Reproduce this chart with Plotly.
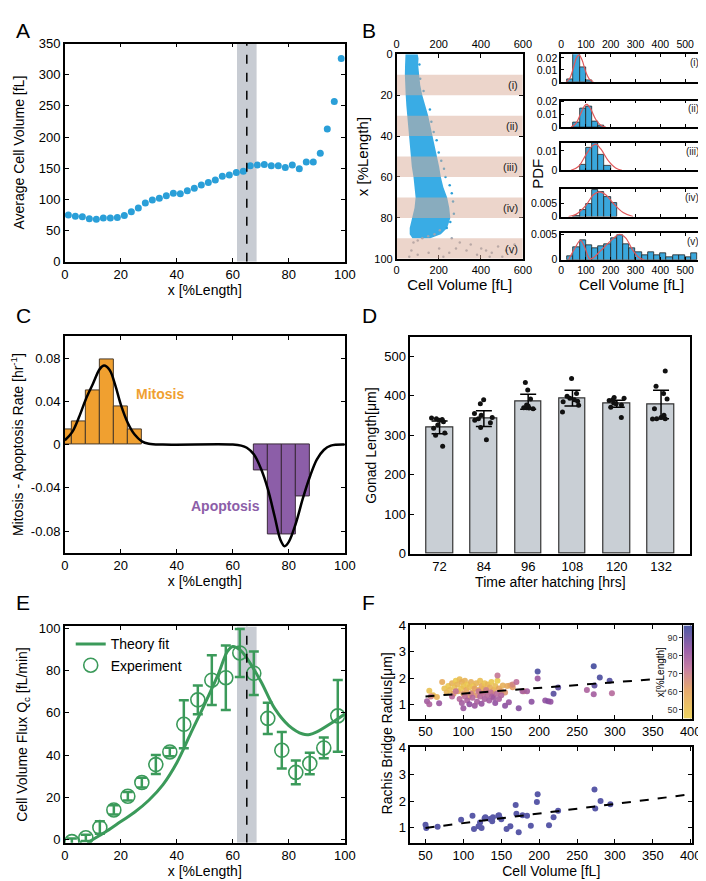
import plotly.graph_objects as go

W, H = 706, 881
FONT = "Liberation Sans, Arial, sans-serif"

# ---------- A: average cell volume along the gonad ----------
a_pos = [1.25, 3.75, 6.25, 8.75, 11.25, 13.75, 16.25, 18.75, 21.25, 23.75,
         26.25, 28.75, 31.25, 33.75, 36.25, 38.75, 41.25, 43.75, 46.25, 48.75,
         51.25, 53.75, 56.25, 58.75, 61.25, 63.75, 66.25, 68.75, 71.25, 73.75,
         76.25, 78.75, 81.25, 83.75, 86.25, 88.75, 91.25, 93.75, 96.25, 98.75]
a_vol = [75, 73, 72, 69, 68, 70, 70, 71, 74, 80,
         86, 94, 99, 102, 106, 110, 109, 114, 118, 123,
         127, 131, 137, 139, 143, 145, 154, 155, 156, 154,
         154, 151, 155, 149, 160, 160, 174, 213, 257, 326]
band = [61.5, 68.5]
transition = 65

# ---------- B: cell volume vs position (dense cloud envelope + sparse cells) ----------
b_level = [0, 2, 5, 10, 15, 20, 25, 30, 35, 40, 45, 50, 55, 60, 65, 70, 75, 80, 85, 88, 90]
b_left = [42, 40, 40, 39, 40, 43, 46, 50, 54, 58, 62, 66, 72, 80, 86, 90, 85, 75, 62, 62, 75]
b_right = [100, 104, 102, 106, 112, 122, 136, 150, 160, 170, 182, 192, 202, 210, 222, 240, 250, 255, 240, 210, 160]
b_sparse_vol = [108, 112, 128, 158, 165, 176, 190, 200, 212, 225, 232, 252, 262, 268, 272, 255, 238,
                205, 180, 150, 122, 100, 80, 262, 300, 352, 402, 425, 452, 482, 520, 548, 560,
                332, 282, 202, 152, 100, 70, 222, 382, 442, 502, 250, 60]
b_sparse_x = [5, 12, 18, 27, 33, 38, 42, 48, 52, 56, 60, 64, 68, 72, 78, 82, 85,
              86, 88, 89, 90, 91, 92, 90, 92, 93, 95, 96, 97, 94, 96, 97, 93,
              96, 95, 95, 97, 98, 96, 99, 98, 99, 99, 97, 99]
b_bands = [(10, 20), (30, 40), (50, 60), (70, 80), (90, 100)]
b_roman = ["(i)", "(ii)", "(iii)", "(iv)", "(v)"]

# ---------- B: histograms of cell volume per band ----------
h_centers = [
    [37.5, 62.5, 87.5, 112.5],
    [62.5, 87.5, 112.5, 137.5, 162.5],
    [87.5, 112.5, 137.5, 162.5, 187.5],
    [62.5, 87.5, 112.5, 137.5, 162.5, 187.5, 212.5],
    [37.5, 62.5, 87.5, 112.5, 137.5, 162.5, 187.5, 212.5, 237.5, 262.5, 287.5,
     312.5, 337.5, 362.5, 387.5, 412.5, 437.5, 462.5, 487.5, 512.5, 537.5],
]
h_pdf = [
    [0.0023, 0.030, 0.012, 0.0015],
    [0.0033, 0.0144, 0.016, 0.004, 0.001],
    [0.0027, 0.0115, 0.0149, 0.0078, 0.0022],
    [0.0002, 0.0023, 0.0049, 0.0099, 0.0093, 0.0072, 0.005],
    [0.0006, 0.0025, 0.0039, 0.0028, 0.0023, 0.0027, 0.0031, 0.0042, 0.0049, 0.0031, 0.0022,
     0.0014, 0.0008, 0.0014, 0.0009, 0.0013, 0.0005, 0.0008, 0.0008, 0.0005, 0.0013],
]
fit_vol = [
    [20, 35, 50, 62, 72, 85, 100, 115, 130],
    [40, 60, 80, 95, 105, 120, 140, 160, 180],
    [40, 70, 100, 125, 140, 160, 190, 220, 245],
    [30, 60, 100, 130, 155, 180, 210, 250, 290],
    [30, 55, 78, 95, 115, 130, 160, 200, 235, 260, 290, 315, 335],
]
fit_pdf = [
    [0, 0.003, 0.012, 0.020, 0.0225, 0.018, 0.008, 0.002, 0],
    [0, 0.003, 0.011, 0.017, 0.018, 0.014, 0.006, 0.0015, 0],
    [0, 0.002, 0.008, 0.0125, 0.0135, 0.011, 0.005, 0.0012, 0],
    [0, 0.0008, 0.0042, 0.0082, 0.0093, 0.0082, 0.005, 0.0015, 0],
    [0, 0.0022, 0.0038, 0.0025, 0.0002, 0.0004, 0.0018, 0.0037, 0.005, 0.0043, 0.0018, 0.0004, 0],
]
h_ymax = [0.023, 0.021, 0.0142, 0.0104, 0.0052]
h_ticks = [[0, 0.01, 0.02], [0, 0.01, 0.02], [0, 0.01], [0, 0.005], [0, 0.005]]

# ---------- C: mitosis / apoptosis rates ----------
mit_x = [0, 5, 10, 15, 20, 25]
mit_rate = [0.014, 0.021, 0.050, 0.0785, 0.0356, 0.014]
apo_x = [70, 75, 80, 85]
apo_rate = [-0.024, -0.083, -0.083, -0.048]
rate_fit_x = [0, 2.5, 5, 7.5, 10, 12.5, 14, 16, 18, 20, 22.5, 25, 27.5, 30, 35,
              60, 63, 65, 67.5, 70, 72.5, 75, 77, 78.5, 80, 82.5, 85, 87.5, 90, 92.5, 95, 100]
rate_fit_y = [0.004, 0.011, 0.025, 0.042, 0.056, 0.070, 0.073, 0.069, 0.055, 0.037, 0.020, 0.009, 0.003, 0.0008, 0,
              0, -0.001, -0.003, -0.009, -0.022, -0.041, -0.067, -0.088, -0.094, -0.090, -0.073, -0.050, -0.030,
              -0.014, -0.005, -0.001, 0]

# ---------- D: gonad length ----------
d_time = ["72", "84", "96", "108", "120", "132"]
d_mean = [320, 342, 385, 394, 380, 378]
d_sd = [16, 20, 19, 20, 9, 36]
d_worms = [
    [342, 340, 344, 338, 334, 326, 318, 306, 300, 272],
    [390, 380, 355, 351, 345, 342, 338, 332, 320, 289],
    [434, 415, 392, 377, 374, 370, 367, 369, 370],
    [444, 406, 399, 394, 390, 386, 376, 359, 385],
    [396, 394, 388, 382, 380, 377, 371, 345, 390],
    [463, 424, 406, 392, 367, 351, 342, 341, 342, 345],
]

# ---------- E: cell volume flux ----------
e_x = [2.5, 7.5, 12.5, 17.5, 22.5, 27.5, 32.5, 37.5, 42.5, 47.5,
       52.5, 57.5, 62.5, 67.5, 72.5, 77.5, 82.5, 87.5, 92.5, 97.5]
e_flux = [-1, 0.8, 5.7, 14, 20.5, 27, 35.5, 41.5, 54.6, 66.2,
          75.5, 76.7, 88.4, 78.8, 57.4, 42.3, 31.8, 36, 43.4, 58.6]
e_err = [1.5, 1.5, 3, 2.2, 2, 2.3, 4.5, 2, 11.4, 6.8,
         11.8, 15.3, 11.4, 10.3, 7.4, 8.7, 5.6, 5.1, 4.9, 17]
theory_x = [8, 10, 15, 20, 25, 30, 35, 40, 45, 50, 55, 58, 60, 62.5, 65, 70, 75, 80, 85, 87.5, 90, 95, 100]
theory_flux = [-1.5, 0, 4, 8.5, 13, 18.6, 25.9, 36.4, 50.4, 64.3, 79, 89, 91.5, 90, 86, 75, 62, 54, 50, 49.8, 51, 55, 59.5]

# ---------- F: rachis bridge radius ----------
f_vol = [55, 60, 65, 72, 75, 78, 80, 82, 85, 87, 88, 90, 92, 93, 95, 97, 98, 100, 100, 102,
         104, 105, 107, 108, 110, 112, 113, 115, 117, 118, 120, 122, 124, 125, 127, 128, 130, 132,
         135, 137, 138, 140, 142, 145, 147, 150, 152, 155, 158, 162, 165, 180,
         52, 55, 57, 68, 85, 90, 95, 98, 100, 102, 105, 108, 110, 112, 115, 118, 120, 122, 124,
         126, 128, 130, 132, 134, 136, 138, 140, 142, 144, 145, 147, 150, 155, 160, 165, 170, 173,
         178, 184, 190, 198, 208, 212, 215, 263, 272, 296,
         198, 219, 225, 272, 273, 280, 293]
f_rad = [1.52, 1.35, 1.28, 1.85, 1.6, 1.45, 1.7, 1.55, 1.8, 1.4, 1.65, 1.9, 1.75, 1.5, 1.95, 1.6, 1.85,
         1.7, 1.4, 1.9, 1.55, 1.75, 1.3, 1.65, 1.85, 1.45, 1.7, 1.6, 1.8, 1.35, 1.55, 1.9, 1.7, 1.45,
         1.6, 1.8, 1.5, 1.75, 1.65, 1.85, 1.4, 1.55, 1.7, 1.9, 1.6, 1.5, 1.72, 1.45, 1.7, 1.72, 1.65, 1.5,
         1.12, 1.0, 1.3, 1.04, 1.3, 1.5, 1.2, 1.05, 0.85, 1.3, 1.15, 1.0, 1.4, 1.25, 0.95, 1.1, 1.5,
         1.3, 1.02, 1.4, 1.2, 1.55, 1.35, 1.15, 1.45, 1.3, 1.25, 1.05, 1.4, 2.1, 1.2, 1.35, 0.95, 1.08,
         1.75, 1.85, 0.85, 1.5, 1.5, 1.1, 1.98, 1.15, 1.12, 1.1, 1.55, 1.38, 1.42,
         2.25, 1.4, 1.64, 2.45, 1.72, 2.02, 1.9]
f_pos = [50, 52, 55, 58, 50, 55, 48, 52, 56, 60, 50, 47, 54, 58, 52, 49, 57, 50, 62, 55,
         60, 48, 63, 52, 56, 58, 49, 61, 54, 65, 57, 51, 59, 62, 55, 50, 60, 53, 57, 48, 63, 58,
         52, 46, 60, 62, 56, 64, 58, 60, 62, 63,
         80, 78, 70, 82, 75, 72, 76, 80, 82, 74, 78, 84, 70, 77, 82, 79, 72, 76, 83, 74, 79, 70,
         76, 80, 73, 78, 81, 84, 75, 72, 79, 77, 85, 83, 68, 74, 86, 79, 80, 85, 82, 84, 86, 84,
         78, 80, 76,
         95, 93, 92, 96, 92, 95, 94]
f_distal_vol = [50, 51, 66, 97, 112, 114, 120, 122, 124, 128, 129, 135, 138, 139, 146, 147, 150,
                157, 162, 169, 170, 173, 178, 184, 189, 197, 198, 213, 219, 225, 273, 274, 281, 294]
f_distal_rad = [1.12, 1.0, 1.04, 1.3, 1.45, 0.96, 1.06, 1.2, 1.0, 1.36, 1.4, 1.33, 1.25, 1.4, 1.45,
                1.47, 1.32, 0.96, 1.06, 1.85, 1.53, 0.84, 1.47, 1.45, 1.08, 1.96, 2.25, 1.1, 1.4,
                1.64, 2.43, 1.72, 2.0, 1.88]
f_fit_all_vol, f_fit_all_rad = [50, 350], [1.3, 1.95]
f_fit_distal_vol, f_fit_distal_rad = [50, 400], [1.0, 2.25]
# colour key levels for x [%Length]
cb_levels = [45, 50, 55, 60, 65, 70, 75, 80, 85, 90, 95, 97]

BLUE = "#2a9fd8"
GREEN = "#3b9a5a"
ORANGE = "#f0a030"
PURPLE = "#8c5ea8"
POS_SCALE = [[0, "#ecd04c"], [0.3, "#e4a25e"], [0.55, "#c0709a"], [0.75, "#9150a0"], [1, "#3d4a9c"]]


def dx(a, b):
    return [a / W, b / W]


def dy(top, bottom):
    return [1 - bottom / H, 1 - top / H]


def frame(**kw):
    d = dict(showline=True, linecolor="black", linewidth=1.5, mirror="ticks", ticks="inside",
             ticklen=4, tickwidth=1.2, tickcolor="black", showgrid=False, zeroline=False,
             tickfont=dict(size=13, color="black"), title_font=dict(size=14, color="black"))
    d.update(kw)
    return d


fig = go.Figure()

# A
fig.add_trace(go.Scatter(x=a_pos, y=a_vol, mode="markers", marker=dict(color=BLUE, size=7),
                         xaxis="x", yaxis="y", showlegend=False))

# B scatter
fig.add_trace(go.Scatter(x=b_left + b_right[::-1], y=b_level + b_level[::-1], mode="lines",
                         fill="toself", fillcolor="rgba(30,160,225,0.88)", line=dict(width=0),
                         xaxis="x2", yaxis="y2", showlegend=False, hoverinfo="skip"))
fig.add_trace(go.Scatter(x=b_sparse_vol, y=b_sparse_x, mode="markers",
                         marker=dict(size=2.5, color=[BLUE if p < 86 else "#9aa6b4" for p in b_sparse_x]),
                         xaxis="x3", yaxis="y2", showlegend=False))

# B histograms
for i in range(5):
    n = i + 4
    fig.add_trace(go.Bar(x=h_centers[i], y=h_pdf[i], width=25,
                         marker=dict(color="#3aa7dc", line=dict(color="#222", width=0.8)),
                         xaxis=f"x{n}", yaxis=f"y{n}", showlegend=False))
    fig.add_trace(go.Scatter(x=fit_vol[i], y=fit_pdf[i], mode="lines", line_shape="spline",
                             line=dict(color="#e0585a", width=1.2),
                             xaxis=f"x{n}", yaxis=f"y{n}", showlegend=False))

# C
fig.add_trace(go.Bar(x=mit_x, y=mit_rate, width=5, marker=dict(color=ORANGE, line=dict(color="#4a3a2a", width=1)),
                     xaxis="x9", yaxis="y9", showlegend=False))
fig.add_trace(go.Bar(x=apo_x, y=apo_rate, width=5, marker=dict(color=PURPLE, line=dict(color="#3a2a3a", width=1)),
                     xaxis="x9", yaxis="y9", showlegend=False))
fig.add_trace(go.Scatter(x=rate_fit_x, y=rate_fit_y, mode="lines", line_shape="spline",
                         line=dict(color="black", width=2.5), xaxis="x9", yaxis="y9", showlegend=False))

# D
fig.add_trace(go.Bar(x=d_time, y=d_mean, width=0.6,
                     marker=dict(color="#c9cfd5", line=dict(color="#333", width=1.2)),
                     error_y=dict(type="data", array=d_sd, color="black", thickness=1.5, width=8),
                     xaxis="x10", yaxis="y10", showlegend=False))
box_x = [t for t, w in zip(d_time, d_worms) for _ in w]
box_y = [v for w in d_worms for v in w]
fig.add_trace(go.Box(x=box_x, y=box_y, boxpoints="all", jitter=0.9, pointpos=0, width=0.55,
                     fillcolor="rgba(0,0,0,0)", line=dict(color="rgba(0,0,0,0)", width=0),
                     marker=dict(color="#111", size=5), xaxis="x10", yaxis="y10", showlegend=False))

# E
fig.add_trace(go.Scatter(x=theory_x, y=theory_flux, mode="lines", line_shape="spline",
                         line=dict(color=GREEN, width=3), name="Theory fit", xaxis="x11", yaxis="y11"))
fig.add_trace(go.Scatter(x=e_x, y=e_flux, mode="markers", name="Experiment",
                         marker=dict(symbol="circle-open", size=14, color=GREEN, line=dict(width=1.6)),
                         error_y=dict(type="data", array=e_err, color=GREEN, thickness=2.5, width=5),
                         xaxis="x11", yaxis="y11"))

# F
fig.add_trace(go.Scatter(x=f_vol, y=f_rad, mode="markers",
                         marker=dict(size=6, color=f_pos, colorscale=POS_SCALE, cmin=45, cmax=97, opacity=0.9,
                                     showscale=False),
                         xaxis="x12", yaxis="y12", showlegend=False))
fig.add_trace(go.Scatter(x=f_fit_all_vol, y=f_fit_all_rad, mode="lines", line=dict(color="black", width=2, dash="dash"),
                         xaxis="x12", yaxis="y12", showlegend=False))
fig.add_trace(go.Scatter(x=f_distal_vol, y=f_distal_rad, mode="markers", marker=dict(size=6, color="#5a5aa8"),
                         xaxis="x13", yaxis="y13", showlegend=False))
fig.add_trace(go.Scatter(x=f_fit_distal_vol, y=f_fit_distal_rad, mode="lines",
                         line=dict(color="black", width=2, dash="dash"),
                         xaxis="x13", yaxis="y13", showlegend=False))
# colour key drawn as a thin heatmap strip with its own axis (labels on the left, as in the figure)
fig.add_trace(go.Heatmap(z=[[v] for v in cb_levels], y=cb_levels, x=[0], colorscale=POS_SCALE,
                         zmin=45, zmax=97, zsmooth="best", showscale=False, opacity=0.9,
                         xaxis="x14", yaxis="y14", hoverinfo="skip"))

layout = dict(
    width=W, height=H, margin=dict(l=0, r=0, t=0, b=0), paper_bgcolor="white", plot_bgcolor="white",
    font=dict(family=FONT, color="black"), bargap=0,
    legend=dict(x=60 / W, y=1 - 624 / H, xanchor="left", yanchor="top", bgcolor="rgba(0,0,0,0)",
                font=dict(size=14), tracegroupgap=0),
    xaxis=frame(domain=dx(54, 340), range=[0, 100], dtick=20, anchor="y",
                title=dict(text="x [%Length]", standoff=2)),
    yaxis=frame(domain=dy(29, 251), range=[0, 350], dtick=50, anchor="x",
                title=dict(text="Average Cell Volume [fL]", standoff=11)),
    xaxis2=frame(domain=dx(393, 522), range=[0, 600], tickvals=[0, 200, 400, 600], anchor="y2",
                 tickfont=dict(size=11), title=dict(text="Cell Volume [fL]", standoff=0, font=dict(size=15))),
    xaxis3=frame(range=[0, 600], tickvals=[0, 200, 400, 600], anchor="y2", overlaying="x2", side="top",
                 mirror=False, tickfont=dict(size=11)),
    yaxis2=frame(domain=dy(40, 248), range=[100, 0], dtick=20, anchor="x2", tickfont=dict(size=11),
                 title=dict(text="x [%Length]", standoff=2, font=dict(size=15))),
)

h_rows = [(40, 68), (87, 114), (130, 158), (177, 205), (222, 249)]
for i, (t, b) in enumerate(h_rows):
    n = i + 4
    xa = frame(domain=dx(561, 705), range=[0, 568], tickvals=[0, 100, 200, 300, 400, 500], anchor=f"y{n}",
               tickfont=dict(size=10.5), ticklen=3, showticklabels=(i in (0, 4)))
    if i == 0:
        xa["side"] = "top"
    if i == 4:
        xa["title"] = dict(text="Cell Volume [fL]", standoff=0, font=dict(size=15))
    layout[f"xaxis{n}"] = xa
    layout[f"yaxis{n}"] = frame(domain=dy(t, b), range=[0, h_ymax[i]], tickvals=h_ticks[i],
                                ticktext=[("0" if v == 0 else f"{v:g}") for v in h_ticks[i]],
                                anchor=f"x{n}", tickfont=dict(size=10.5), ticklen=3)

layout["xaxis9"] = frame(domain=dx(54, 340), range=[0, 100], dtick=20, anchor="y9",
                         title=dict(text="x [%Length]", standoff=2))
layout["yaxis9"] = frame(domain=dy(327, 547), range=[-0.1, 0.1], anchor="x9",
                         tickvals=[-0.08, -0.04, 0, 0.04, 0.08], ticktext=["-0.08", "-0.04", "0", "0.04", "0.08"],
                         title=dict(text="Mitosis - Apoptosis Rate [hr<sup>-1</sup>]", standoff=9))
layout["xaxis10"] = frame(domain=dx(407, 693), range=[-0.66, 5.66], type="category", anchor="y10", ticks="",
                          mirror=True, title=dict(text="Time after hatching [hrs]", standoff=2))
layout["yaxis10"] = frame(domain=dy(328, 548), range=[0, 548], dtick=100, anchor="x10", mirror=True,
                          title=dict(text="Gonad Length[μm]", standoff=4))
layout["xaxis11"] = frame(domain=dx(54, 340), range=[0, 100], dtick=20, anchor="y11",
                          title=dict(text="x [%Length]", standoff=2))
layout["yaxis11"] = frame(domain=dy(622, 842), range=[-1.5, 101], dtick=20, anchor="x11",
                          title=dict(text="Cell Volume Flux Q<sub>c</sub> [fL/min]", standoff=8))
layout["xaxis12"] = frame(domain=dx(407, 695), range=[30, 402], tickvals=[50, 100, 150, 200, 250, 300, 350, 400],
                          anchor="y12")
layout["yaxis12"] = frame(domain=dy(621, 716), range=[0.45, 4], dtick=1, anchor="x12")
layout["xaxis13"] = frame(domain=dx(407, 695), range=[30, 402], tickvals=[50, 100, 150, 200, 250, 300, 350, 400],
                          anchor="y13", title=dict(text="Cell Volume [fL]", standoff=2))
layout["yaxis13"] = frame(domain=dy(745, 842), range=[0.45, 4], dtick=1, anchor="x13")
layout["xaxis14"] = dict(domain=dx(686, 695), anchor="y14", range=[-0.5, 0.5], showticklabels=False, ticks="",
                         showline=True, linecolor="black", linewidth=1.2, mirror=True, showgrid=False, zeroline=False)
layout["yaxis14"] = dict(domain=dy(621, 716), anchor="x14", range=[45, 97], side="left",
                         tickvals=[50, 60, 70, 80, 90], ticks="outside", ticklen=3, tickcolor="#333",
                         tickfont=dict(size=9, color="#333"), showline=True, linecolor="black", linewidth=1.2,
                         mirror=True, showgrid=False, zeroline=False,
                         title=dict(text="x[%Length]", standoff=1, font=dict(size=10, color="black")))

fig.update_layout(**layout)

# shaded transition zone + dashed line (A and E), bands in B
shapes = []
for xr, yr, y0, y1 in [("x", "y", 0, 350), ("x11", "y11", -1.5, 101)]:
    shapes.append(dict(type="rect", xref=xr, yref=yr, x0=band[0], x1=band[1], y0=y0, y1=y1,
                       fillcolor="#c8ccd3", line=dict(width=0), layer="below"))
    shapes.append(dict(type="line", xref=xr, yref=yr, x0=transition, x1=transition, y0=y0, y1=y1,
                       line=dict(color="black", width=1.5, dash="dash"), layer="above"))
for y0, y1 in b_bands:
    shapes.append(dict(type="rect", xref="x2", yref="y2", x0=1, x1=599, y0=y0, y1=y1,
                       fillcolor="rgba(218,172,152,0.5)", line=dict(width=0), layer="above"))
fig.update_layout(shapes=shapes)


def note(text, x, y, size, angle=0, color="black"):
    return dict(text=text, x=x / W, y=1 - y / H, xref="paper", yref="paper", xanchor="center",
                yanchor="middle", textangle=angle, showarrow=False, font=dict(size=size, color=color))


ann = []
for txt, x, y in [("A", 2, 2), ("B", 356, 2), ("C", 2, 292), ("D", 356, 292), ("E", 2, 584), ("F", 356, 584)]:
    ann.append(dict(text=txt, x=x / W, y=1 - y / H, xref="paper", yref="paper", xanchor="left", yanchor="top",
                    showarrow=False, font=dict(size=21)))
for (y0, y1), r in zip(b_bands, b_roman):
    ann.append(dict(text=r, x=585, y=(y0 + y1) / 2, xref="x2", yref="y2", xanchor="right", showarrow=False,
                    font=dict(size=11, color="#222")))
for i, r in enumerate(b_roman):
    n = i + 4
    ann.append(dict(text=r, x=565, y=0.97, xref=f"x{n}", yref=f"y{n} domain", xanchor="right", yanchor="top",
                    showarrow=False, font=dict(size=10, color="#222")))
ann.append(note("PDF", 537, 162, 15, -90))
ann.append(dict(text="<b>Mitosis</b>", x=34, y=0.047, xref="x9", yref="y9", showarrow=False,
                font=dict(size=14, color=ORANGE)))
ann.append(dict(text="<b>Apoptosis</b>", x=57.5, y=-0.057, xref="x9", yref="y9", showarrow=False,
                font=dict(size=14, color=PURPLE)))
ann.append(note("Rachis Bridge Radius[μm]", 383, 731, 14, -90))
fig.update_layout(annotations=ann)

fig.write_html("out.html")
